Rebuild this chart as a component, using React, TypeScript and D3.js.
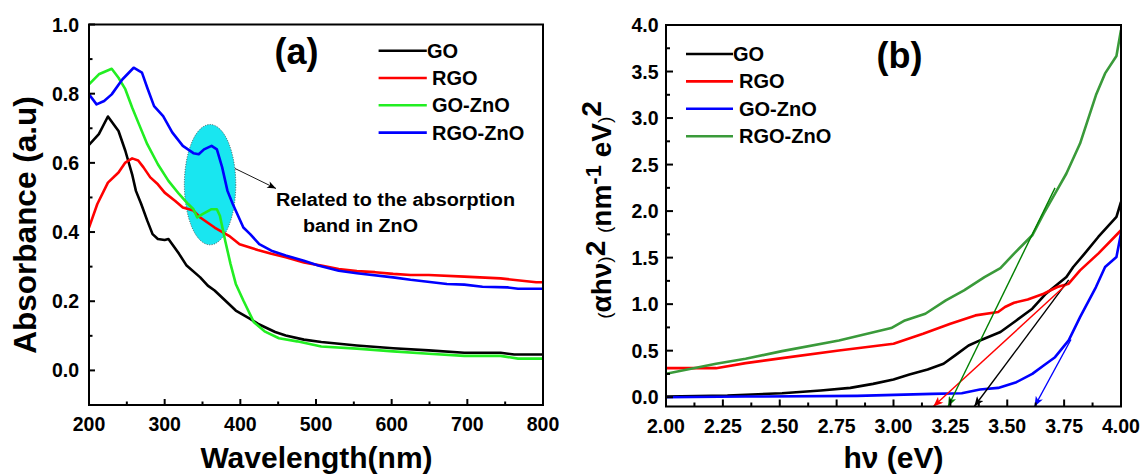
import React from "react";
import * as d3 from "d3";

// ---------- Panel (a) data: wavelength (nm) vs absorbance ----------
const goA: [number, number][] = [[200,0.652],[213,0.683],[225,0.734],[239,0.692],[248,0.635],[257,0.567],[262,0.519],[269,0.481],[277,0.433],[284,0.394],[291,0.380],[300,0.377],[305,0.380],[310,0.365],[319,0.337],[329,0.303],[347,0.269],[357,0.245],[366,0.231],[380,0.202],[394,0.173],[413,0.149],[423,0.135],[446,0.111],[460,0.101],[484,0.089],[507,0.082],[554,0.072],[602,0.064],[649,0.058],[696,0.051],[744,0.051],[762,0.046],[800,0.046]];
const rgoA: [number, number][] = [[200,0.413],[211,0.481],[225,0.543],[239,0.572],[248,0.601],[257,0.613],[265,0.607],[272,0.587],[281,0.558],[291,0.538],[300,0.514],[314,0.490],[324,0.471],[338,0.462],[347,0.442],[366,0.413],[385,0.389],[399,0.365],[423,0.348],[441,0.337],[460,0.327],[484,0.312],[507,0.303],[530,0.293],[554,0.287],[578,0.284],[602,0.279],[625,0.276],[649,0.276],[696,0.271],[744,0.266],[791,0.255],[800,0.255]];
const goZnoA: [number, number][] = [[200,0.827],[213,0.856],[230,0.872],[239,0.846],[248,0.813],[257,0.760],[266,0.712],[277,0.654],[291,0.596],[305,0.548],[319,0.510],[331,0.481],[338,0.466],[343,0.442],[350,0.452],[362,0.466],[369,0.466],[373,0.447],[380,0.375],[387,0.308],[394,0.250],[404,0.202],[418,0.139],[432,0.113],[451,0.093],[475,0.084],[507,0.069],[554,0.063],[602,0.055],[649,0.048],[696,0.042],[744,0.042],[767,0.034],[800,0.034]];
const rgoZnoA: [number, number][] = [[200,0.798],[210,0.769],[220,0.779],[230,0.798],[244,0.841],[259,0.875],[270,0.861],[277,0.817],[286,0.764],[298,0.735],[310,0.688],[324,0.649],[338,0.628],[345,0.625],[352,0.639],[362,0.649],[369,0.639],[376,0.587],[383,0.519],[390,0.481],[404,0.413],[413,0.394],[425,0.365],[441,0.346],[460,0.332],[484,0.317],[503,0.303],[530,0.288],[554,0.281],[602,0.269],[625,0.262],[673,0.250],[696,0.248],[720,0.242],[753,0.240],[767,0.236],[800,0.236]];

// ---------- Panel (b) data: photon energy (eV) vs (αhν)^2 ----------
const goB: [number, number][] = [[2.00,0.007],[2.27,0.018],[2.51,0.043],[2.68,0.072],[2.81,0.100],[2.91,0.143],[3.00,0.190],[3.07,0.244],[3.15,0.298],[3.22,0.359],[3.28,0.466],[3.33,0.556],[3.38,0.610],[3.47,0.700],[3.54,0.825],[3.61,0.951],[3.67,1.112],[3.76,1.291],[3.79,1.399],[3.84,1.543],[3.90,1.722],[3.98,1.937],[4.00,2.099]];
const rgoB: [number, number][] = [[2.00,0.312],[2.22,0.312],[2.35,0.366],[2.51,0.420],[2.76,0.502],[3.00,0.574],[3.13,0.682],[3.25,0.789],[3.36,0.879],[3.46,0.915],[3.49,0.969],[3.53,1.015],[3.59,1.051],[3.66,1.112],[3.72,1.184],[3.77,1.220],[3.82,1.363],[3.90,1.543],[4.00,1.794]];
const goZnoB: [number, number][] = [[2.00,0.0],[2.35,0.007],[2.84,0.014],[3.17,0.036],[3.30,0.043],[3.38,0.083],[3.46,0.100],[3.54,0.161],[3.61,0.251],[3.66,0.341],[3.71,0.430],[3.77,0.610],[3.82,0.861],[3.89,1.184],[3.93,1.399],[3.98,1.507],[4.00,1.758]];
const rgoZnoB: [number, number][] = [[2.00,0.251],[2.22,0.359],[2.35,0.413],[2.51,0.495],[2.76,0.610],[2.99,0.743],[3.05,0.825],[3.14,0.897],[3.23,1.040],[3.31,1.148],[3.40,1.291],[3.47,1.388],[3.53,1.543],[3.61,1.740],[3.66,1.973],[3.71,2.188],[3.76,2.404],[3.82,2.726],[3.89,3.247],[3.93,3.480],[3.98,3.666],[4.00,3.946]];

// Tauc extrapolation lines (start point, arrow tip on the energy axis)
const tangentFrom: [number, number][] = [[3.77,1.26],[3.76,1.21],[3.78,0.62],[3.71,2.25]];
const tangentTo: [number, number][] = [[3.355,-0.1],[3.175,-0.1],[3.62,-0.1],[3.24,-0.1]];
const tangentColors = ["#000000", "#ff0000", "#0000ff", "#008000"];

const seriesNames = ["GO", "RGO", "GO-ZnO", "RGO-ZnO"];
const colorsA = ["#000000", "#ff0000", "#22ee22", "#0000ff"];
const colorsB = ["#000000", "#ff0000", "#0000ff", "#3a9a3a"];

const xTicksA = [200, 300, 400, 500, 600, 700, 800];
const xMinorA = [250, 350, 450, 550, 650, 750];
const yTicksA = [0, 0.2, 0.4, 0.6, 0.8, 1.0];
const yMinorA = [0.1, 0.3, 0.5, 0.7, 0.9];
const xTicksB = [2.0, 2.25, 2.5, 2.75, 3.0, 3.25, 3.5, 3.75, 4.0];
const xMinorB = [2.125, 2.375, 2.625, 2.875, 3.125, 3.375, 3.625, 3.875];
const yTicksB = [0, 0.5, 1.0, 1.5, 2.0, 2.5, 3.0, 3.5, 4.0];
const yMinorB = [0.25, 0.75, 1.25, 1.75, 2.25, 2.75, 3.25, 3.75];

const FONT = "'Liberation Sans', Arial, sans-serif";

type Box = { l: number; r: number; t: number; b: number };

function Frame({ box, x, y, xt, xm, yt, ym, xf, yf, yLabGap, major, minor }: any) {
  return (
    <g>
      {xt.map((v: number) => (
        <g key={"xt" + v}>
          <line x1={x(v)} x2={x(v)} y1={box.b} y2={box.b - major} stroke="#000" strokeWidth={2} />
          <text x={x(v)} y={box.b + 26} textAnchor="middle" fontSize={19.5} fontWeight="bold" fontFamily={FONT}>{xf(v)}</text>
        </g>
      ))}
      {xm.map((v: number) => (
        <line key={"xm" + v} x1={x(v)} x2={x(v)} y1={box.b} y2={box.b - minor} stroke="#000" strokeWidth={2} />
      ))}
      {yt.map((v: number) => (
        <g key={"yt" + v}>
          <line x1={box.l} x2={box.l + major} y1={y(v)} y2={y(v)} stroke="#000" strokeWidth={2} />
          <text x={box.l - yLabGap} y={y(v)} dy="0.36em" textAnchor="end" fontSize={19.5} fontWeight="bold" fontFamily={FONT}>{yf(v)}</text>
        </g>
      ))}
      {ym.map((v: number) => (
        <line key={"ym" + v} x1={box.l} x2={box.l + minor} y1={y(v)} y2={y(v)} stroke="#000" strokeWidth={2} />
      ))}
      <rect x={box.l} y={box.t} width={box.r - box.l} height={box.b - box.t} fill="none" stroke="#000" strokeWidth={2} />
    </g>
  );
}

export default function App() {
  const boxA: Box = { l: 89, r: 543, t: 24.5, b: 405 };
  const boxB: Box = { l: 666, r: 1121, t: 25, b: 406.5 };

  const xA = d3.scaleLinear().domain([200, 800]).range([boxA.l, boxA.r]);
  const yA = d3.scaleLinear().domain([-0.1, 1.0]).range([boxA.b, boxA.t]);
  const xB = d3.scaleLinear().domain([2, 4]).range([boxB.l, boxB.r]);
  const yB = d3.scaleLinear().domain([-0.1, 4.0]).range([boxB.b, boxB.t]);

  const lineA = d3.line<[number, number]>().x(d => xA(d[0])).y(d => yA(d[1]));
  const lineB = d3.line<[number, number]>().x(d => xB(d[0])).y(d => yB(d[1]));

  const seriesA = [goA, rgoA, goZnoA, rgoZnoA];
  const seriesB = [goB, rgoB, goZnoB, rgoZnoB];

  const f1 = d3.format(".1f");
  const f0 = d3.format("d");
  const f2 = d3.format(".2f");

  // ellipse highlighting ZnO band (data units)
  const ellCx = 360, ellCy = 0.537, ellRx = 34, ellRy = 0.174;

  return (
    <div style={{ position: "absolute", left: 0, top: 0 }}>
      <svg width={1142} height={475} style={{ display: "block", background: "#fff" }} fontFamily={FONT}>
        <defs>
          {tangentColors.map((c, i) => (
            <marker key={i} id={"arr" + i} viewBox="0 0 10 8" refX={10} refY={4} markerWidth={11} markerHeight={8} markerUnits="userSpaceOnUse" orient="auto">
              <path d="M0,0 L10,4 L0,8 L2.5,4 z" fill={c} />
            </marker>
          ))}
          <marker id="arrK" viewBox="0 0 10 8" refX={10} refY={4} markerWidth={10} markerHeight={7} markerUnits="userSpaceOnUse" orient="auto">
            <path d="M0,0 L10,4 L0,8 L2.5,4 z" fill="#000" />
          </marker>
          <clipPath id="clipA"><rect x={boxA.l} y={boxA.t} width={boxA.r - boxA.l} height={boxA.b - boxA.t} /></clipPath>
          <clipPath id="clipB"><rect x={boxB.l} y={boxB.t} width={boxB.r - boxB.l} height={boxB.b - boxB.t} /></clipPath>
        </defs>

        {/* ---------------- Panel (a) ---------------- */}
        <ellipse cx={xA(ellCx)} cy={yA(ellCy)} rx={xA(ellCx + ellRx) - xA(ellCx)} ry={yA(ellCy - ellRy) - yA(ellCy)} fill="#19e6f0" stroke="#333" strokeWidth={0.8} strokeDasharray="1,1.5" />
        <g clipPath="url(#clipA)">
          {seriesA.map((s, i) => (
            <path key={i} d={lineA(s) || ""} fill="none" stroke={colorsA[i]} strokeWidth={2.6} strokeLinejoin="round" />
          ))}
        </g>
        <Frame box={boxA} x={xA} y={yA} xt={xTicksA} xm={xMinorA} yt={yTicksA} ym={yMinorA} xf={f0} yf={f1} yLabGap={10} major={6} minor={3.5} />
        <line x1={235} y1={168.5} x2={276} y2={188.5} stroke="#000" strokeWidth={0.9} markerEnd="url(#arrK)" />
        <text x={276} y={206} fontSize={17.5} fontWeight="bold" textLength={239} lengthAdjust="spacingAndGlyphs">Related to the absorption</text>
        <text x={303} y={231.5} fontSize={17.5} fontWeight="bold" textLength={115} lengthAdjust="spacingAndGlyphs">band in ZnO</text>
        <text x={296.5} y={64} textAnchor="middle" fontSize={36} fontWeight="bold">(a)</text>
        {seriesNames.map((n, i) => {
          const ly = 50.7 + i * 27.3;
          return (
            <g key={n}>
              <line x1={378.6} x2={426.8} y1={ly} y2={ly} stroke={colorsA[i]} strokeWidth={2.6} />
              <text x={i === 0 ? 427 : 432} y={ly + 7} fontSize={20} fontWeight="bold">{n}</text>
            </g>
          );
        })}
        <text transform={`translate(35.5,225) rotate(-90)`} textAnchor="middle" fontSize={31.5} fontWeight="bold">Absorbance (a.u)</text>
        <text x={316.5} y={468} textAnchor="middle" fontSize={30} fontWeight="bold">Wavelength(nm)</text>

        {/* ---------------- Panel (b) ---------------- */}
        <g clipPath="url(#clipB)">
          {seriesB.map((s, i) => (
            <path key={i} d={lineB(s) || ""} fill="none" stroke={colorsB[i]} strokeWidth={2.6} strokeLinejoin="round" />
          ))}
        </g>
        {tangentFrom.map((p, i) => (
          <line key={"tg" + i} x1={xB(p[0])} y1={yB(p[1])} x2={xB(tangentTo[i][0])} y2={yB(tangentTo[i][1])} stroke={tangentColors[i]} strokeWidth={1.4} markerEnd={`url(#arr${i})`} />
        ))}
        <Frame box={boxB} x={xB} y={yB} xt={xTicksB} xm={xMinorB} yt={yTicksB} ym={yMinorB} xf={f2} yf={f1} yLabGap={7.5} major={7} minor={4} />
        <text x={899.5} y={67.5} textAnchor="middle" fontSize={36} fontWeight="bold">(b)</text>
        {seriesNames.map((n, i) => {
          const ly = 54 + i * 27.4;
          return (
            <g key={"lb" + n}>
              <line x1={686} x2={733} y1={ly} y2={ly} stroke={colorsB[i]} strokeWidth={2.6} />
              <text x={i === 0 ? 733 : 739} y={ly + 7} fontSize={20} fontWeight="bold">{n}</text>
            </g>
          );
        })}
        <text transform={`translate(611,210) rotate(-90)`} textAnchor="middle" fontSize={28} fontWeight="bold">
          <tspan fontSize={19} fontWeight="normal">(</tspan>
          <tspan>αhν</tspan>
          <tspan fontSize={19} fontWeight="normal">)</tspan>
          <tspan dy={-6}>2</tspan>
          <tspan dy={6}> </tspan>
          <tspan fontSize={19} fontWeight="normal">(</tspan>
          <tspan>nm</tspan>
          <tspan fontSize={22} dy={-10}>-1</tspan>
          <tspan dy={10}> eV</tspan>
          <tspan fontSize={19} fontWeight="normal">)</tspan>
          <tspan dy={-10}>2</tspan>
        </text>
        <text x={893.5} y={468} textAnchor="middle" fontSize={30} fontWeight="bold">hν (eV)</text>
      </svg>
    </div>
  );
}
